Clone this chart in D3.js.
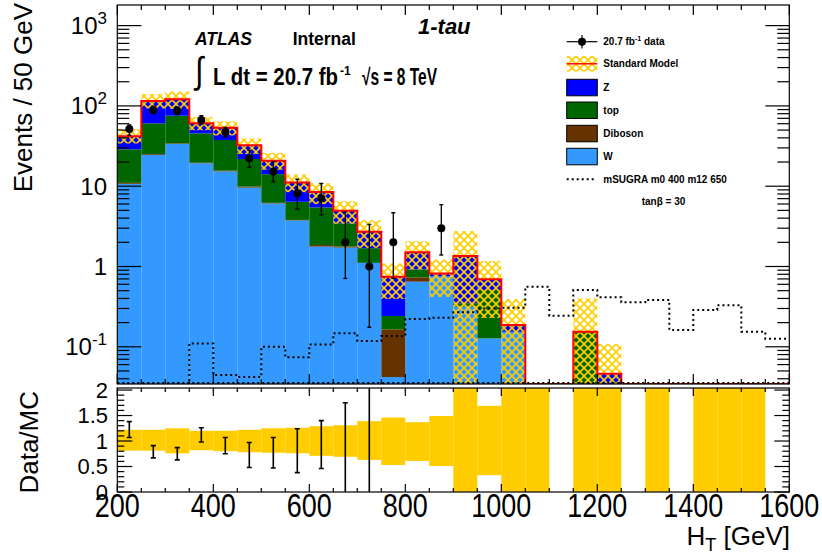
<!DOCTYPE html>
<html>
<head>
<meta charset="utf-8">
<script src="https://cdn.jsdelivr.net/npm/d3@7"></script>
<style>
body { margin: 0; background: #fff; }
text { font-family: "Liberation Sans", Arial, Helvetica, sans-serif; }
</style>
</head>
<body>
<div id="chart"></div>
<script>
// bin edges in H_T [GeV]
var edges = [200,250,300,350,400,450,500,550,600,650,700,750,800,850,900,950,1000,1050,1100,1150,1200,1250,1300,1350,1400,1450,1500,1550,1600];

// background stack (events per bin)
var wBkg   = [10.7,24.6,33.6,19.3,15.3,9.6,6.1,3.75,1.77,1.72,1.11,0.042,0.647,0.76,0.316,0.127,0.154,0,0,0,0,0,0,0,0,0,0,0];
var dibBkg = [0.3,0.6,0.6,0.3,0.3,0.3,0.1,0.05,0.08,0.05,0,0.123,0.086,0,0,0,0,0,0,0,0,0,0,0,0,0,0,0];
var topBkg = [17.8,35.5,41.3,26,22,11.9,7.9,2.6,3.6,1.68,0.58,0.077,0.19,0,0.032,0.383,0,0,0,0.154,0,0,0,0,0,0,0,0];
var zBkg   = [13.2,54.3,45.5,15.1,15.9,10.5,6.7,4.7,3.0,1.5,1.02,0.504,0.58,0.06,1.0,0.183,0.033,0,0,0,0.046,0,0,0,0,0,0,0];

// relative SM uncertainty (down / up)
var errLo = [0.81,0.81,0.76,0.82,0.8,0.78,0.77,0.76,0.71,0.69,0.63,0.53,0.61,0.51,0,0.33,0,0,null,0,0,null,0,null,0,0,0,null];
var errHi = [1.22,1.22,1.25,1.2,1.2,1.22,1.25,1.26,1.29,1.31,1.39,1.46,1.37,1.49,2.05,1.69,2.1,2.5,null,2.6,2.35,null,2.5,null,2.5,2.5,2.5,null];

// data
var dataVals = [51.5,89,87,66.7,47.3,22.3,15.2,8.15,7.1,2,1,2,null,3,null,null,null,null,null,null,null,null,null,null,null,null,null,null];
var dataLo   = [43.3,80,78,59.3,41,17.3,11.3,5.2,4.4,0.71,0.175,0.71,null,1.39];
var dataHi   = [57.8,99,97,75.5,54,28.2,20.2,12.2,10.8,4.8,3.35,4.67,null,5.9];

// signal mSUGRA m0 400 m12 650
var sigVals = [0,0,0,0.11,0.0445,0.042,0.1,0.074,0.107,0.147,0.118,0.136,0.222,0.23,0.27,0.3,0.307,0.56,0.244,0.51,0.414,0.358,0.383,0.162,0.287,0.329,0.154,0.126];

// data / MC
var ratioVals = [1.23,0.78,0.74,1.12,0.9,0.7,0.75,0.78,0.88,0.4,0.37];
var ratioLo   = [1.07,0.67,0.63,0.98,0.75,0.48,0.47,0.38,0.46,0,0];
var ratioHi   = [1.38,0.91,0.87,1.26,1.07,0.97,1.07,1.24,1.40,1.75,3];

var xTickLabels = [200,400,600,800,1000,1200,1400,1600];

var colW = "#3399ff", colDib = "#663300", colTop = "#006600", colZ = "#0000ff";
var colBand = "#ffcc00", colSM = "#ff0000";

var L = 117.3, R = 789.3, T = 5, B = 384, RT = 388, RB = 492;

var svg = d3.select("#chart").append("svg")
    .attr("width", 822)
    .attr("height", 557);

var defs = svg.append("defs");
var pat = defs.append("pattern")
    .attr("id", "hatch")
    .attr("patternUnits", "userSpaceOnUse")
    .attr("width", 8)
    .attr("height", 8);
pat.append("path")
    .attr("d", "M0,0L8,8M8,0L0,8")
    .attr("stroke", colBand)
    .attr("stroke-width", 1.6)
    .attr("fill", "none");
defs.append("clipPath").attr("id", "clipMain")
    .append("rect").attr("x", L).attr("y", T).attr("width", R - L).attr("height", B - T);
defs.append("clipPath").attr("id", "clipRatio")
    .append("rect").attr("x", L).attr("y", RT).attr("width", R - L).attr("height", RB - RT);

var x = d3.scaleLinear().domain([200, 1600]).range([L, R]);
var y = d3.scaleLog().domain([0.0344, 1806]).range([B, T]);
var yr = d3.scaleLinear().domain([0, 2.04]).range([RB, RT]);
var ymin = y.domain()[0];

function mid(i) { return x((edges[i] + edges[i + 1]) / 2); }

// ---------- main panel ----------
var main = svg.append("g").attr("clip-path", "url(#clipMain)");

var layers = [
    {v: wBkg, c: colW},
    {v: dibBkg, c: colDib},
    {v: topBkg, c: colTop},
    {v: zBkg, c: colZ}
];
var sm = wBkg.map(function(d, i) { return wBkg[i] + dibBkg[i] + topBkg[i] + zBkg[i]; });
var cum = wBkg.map(function() { return 0; });

layers.forEach(function(layer) {
    layer.v.forEach(function(v, i) {
        var lo = cum[i], hi = cum[i] + v;
        cum[i] = hi;
        if (v <= 0 || hi <= ymin) return;
        var y0 = y(Math.max(lo, ymin)), y1 = y(hi);
        main.append("rect")
            .attr("x", x(edges[i]))
            .attr("y", y1)
            .attr("width", x(edges[i + 1]) - x(edges[i]))
            .attr("height", y0 - y1)
            .attr("fill", layer.c);
    });
});

// SM uncertainty hatch
sm.forEach(function(v, i) {
    if (v <= 0 || errHi[i] == null) return;
    var y1 = y(v * errHi[i]);
    var y0 = y(Math.max(v * errLo[i], ymin));
    main.append("rect")
        .attr("x", x(edges[i]))
        .attr("y", y1)
        .attr("width", x(edges[i + 1]) - x(edges[i]))
        .attr("height", y0 - y1)
        .attr("fill", "url(#hatch)");
});

function stepPath(vals) {
    var pts = [];
    vals.forEach(function(v, i) {
        var yy = y(Math.max(v, ymin));
        pts.push([x(edges[i]), yy], [x(edges[i + 1]), yy]);
    });
    return d3.line()(pts);
}

main.append("path")
    .attr("d", stepPath(sm))
    .attr("fill", "none")
    .attr("stroke", colSM)
    .attr("stroke-width", 2);

// dotted baseline along the bottom of the frame
main.append("line")
    .attr("x1", L).attr("x2", R)
    .attr("y1", B - 1).attr("y2", B - 1)
    .attr("stroke", "#000")
    .attr("stroke-width", 2)
    .attr("stroke-dasharray", "2,3");

main.append("path")
    .attr("d", stepPath(sigVals))
    .attr("fill", "none")
    .attr("stroke", "#000")
    .attr("stroke-width", 2)
    .attr("stroke-dasharray", "2,3");

// data points
dataVals.forEach(function(v, i) {
    if (v == null) return;
    var cx = mid(i);
    var yh = y(dataHi[i]), yl = y(Math.max(dataLo[i], ymin));
    main.append("line")
        .attr("x1", cx).attr("x2", cx).attr("y1", yh).attr("y2", yl)
        .attr("stroke", "#000").attr("stroke-width", 1.3);
    [yh, yl].forEach(function(yy) {
        main.append("line")
            .attr("x1", cx - 2).attr("x2", cx + 2).attr("y1", yy).attr("y2", yy)
            .attr("stroke", "#000").attr("stroke-width", 1.3);
    });
    main.append("circle")
        .attr("cx", cx).attr("cy", y(v)).attr("r", 4)
        .attr("fill", "#000");
});

// ---------- ratio panel ----------
var ratio = svg.append("g").attr("clip-path", "url(#clipRatio)");

errHi.forEach(function(h, i) {
    if (h == null) return;
    var y1 = yr(Math.min(h, 2.04)), y0 = yr(errLo[i]);
    ratio.append("rect")
        .attr("x", x(edges[i]))
        .attr("y", y1)
        .attr("width", x(edges[i + 1]) - x(edges[i]))
        .attr("height", y0 - y1)
        .attr("fill", colBand);
});

ratioVals.forEach(function(v, i) {
    var cx = mid(i);
    var yh = yr(ratioHi[i]), yl = yr(ratioLo[i]);
    ratio.append("line")
        .attr("x1", cx).attr("x2", cx).attr("y1", yh).attr("y2", yl)
        .attr("stroke", "#000").attr("stroke-width", 1.6);
    [ratioHi[i], ratioLo[i]].forEach(function(r) {
        if (r <= 0 || r >= 2.04) return;
        ratio.append("line")
            .attr("x1", cx - 2.5).attr("x2", cx + 2.5).attr("y1", yr(r)).attr("y2", yr(r))
            .attr("stroke", "#000").attr("stroke-width", 1.6);
    });
});

// ---------- frames & ticks ----------
function frame(top, bottom) {
    svg.append("rect")
        .attr("x", L).attr("y", top)
        .attr("width", R - L).attr("height", bottom - top)
        .attr("fill", "none")
        .attr("stroke", "#000")
        .attr("stroke-width", 1.2);
}
frame(T, B);
frame(RT, RB);

var ticks = svg.append("g").attr("stroke", "#000").attr("stroke-width", 1.2);

function xTicks(top, bottom, major, minor) {
    x.ticks(28).forEach(function(t) {
        var len = (t % 200 === 0) ? major : minor;
        ticks.append("line").attr("x1", x(t)).attr("x2", x(t)).attr("y1", bottom).attr("y2", bottom - len);
        ticks.append("line").attr("x1", x(t)).attr("x2", x(t)).attr("y1", top).attr("y2", top + len);
    });
}
xTicks(T, B, 10, 5);
xTicks(RT, RB, 8, 4);

y.ticks().forEach(function(t) {
    var lg = Math.log10(t);
    var isMajor = Math.abs(lg - Math.round(lg)) < 1e-6;
    var len = isMajor ? 24 : 12;
    ticks.append("line").attr("x1", L).attr("x2", L + len).attr("y1", y(t)).attr("y2", y(t));
    ticks.append("line").attr("x1", R).attr("x2", R - len).attr("y1", y(t)).attr("y2", y(t));
});

yr.ticks(20).forEach(function(t) {
    var isMajor = Math.abs(t * 2 - Math.round(t * 2)) < 1e-6;
    var len = isMajor ? 15 : 7;
    ticks.append("line").attr("x1", L).attr("x2", L + len).attr("y1", yr(t)).attr("y2", yr(t));
    ticks.append("line").attr("x1", R).attr("x2", R - len).attr("y1", yr(t)).attr("y2", yr(t));
});

// ---------- tick labels ----------
y.ticks().forEach(function(t) {
    var lg = Math.round(Math.log10(t));
    if (Math.abs(Math.log10(t) - lg) > 1e-6) return;
    var tx = svg.append("text")
        .attr("x", 107)
        .attr("y", y(t) + 8.5)
        .attr("text-anchor", "end")
        .attr("font-size", 24);
    if (lg === 0) tx.text("1");
    else if (lg === 1) tx.text("10");
    else {
        tx.append("tspan").text("10");
        tx.append("tspan").attr("dy", -10).attr("font-size", 17).text(lg);
    }
});

yr.ticks(4).forEach(function(t) {
    svg.append("text")
        .attr("x", 108)
        .attr("y", yr(t) + 7.8)
        .attr("text-anchor", "end")
        .attr("font-size", 22)
        .text(d3.format("~g")(t));
});

xTickLabels.forEach(function(t) {
    svg.append("text")
        .attr("transform", "translate(" + x(t) + ",516.7) scale(1,1.2)")
        .attr("text-anchor", "middle")
        .attr("font-size", 27)
        .text(t);
});

// ---------- axis titles ----------
svg.append("text")
    .attr("transform", "translate(32,3) rotate(-90)")
    .attr("text-anchor", "end")
    .attr("font-size", 26)
    .text("Events / 50 GeV");

svg.append("text")
    .attr("transform", "translate(38,391) rotate(-90)")
    .attr("text-anchor", "end")
    .attr("font-size", 26)
    .text("Data/MC");

var xt = svg.append("text")
    .attr("x", 790)
    .attr("y", 545)
    .attr("text-anchor", "end")
    .attr("font-size", 26);
xt.append("tspan").text("H");
xt.append("tspan").attr("dy", 6).attr("font-size", 18).text("T");
xt.append("tspan").attr("dy", -6).text(" [GeV]");

// ---------- labels ----------
svg.append("text")
    .attr("x", 195).attr("y", 45)
    .attr("font-size", 17.5).attr("font-weight", "bold").attr("font-style", "italic")
    .text("ATLAS");
svg.append("text")
    .attr("x", 292.7).attr("y", 45)
    .attr("font-size", 17.5).attr("font-weight", "bold")
    .text("Internal");

svg.append("text")
    .attr("transform", "translate(195,83) scale(1,1.23)")
    .attr("font-size", 30)
    .text("\u222B");

svg.append("text")
    .attr("transform", "translate(213,85) scale(1,1.15)")
    .attr("font-size", 20).attr("font-weight", "bold")
    .attr("textLength", 125).attr("lengthAdjust", "spacingAndGlyphs")
    .text("L dt = 20.7 fb");
svg.append("text")
    .attr("x", 340).attr("y", 75)
    .attr("font-size", 12).attr("font-weight", "bold")
    .text("-1");
svg.append("text")
    .attr("transform", "translate(362,85) scale(1,1.15)")
    .attr("font-size", 20).attr("font-weight", "bold")
    .attr("textLength", 75).attr("lengthAdjust", "spacingAndGlyphs")
    .text("\u221As = 8 TeV");

svg.append("text")
    .attr("x", 418).attr("y", 34)
    .attr("font-size", 22).attr("font-weight", "bold").attr("font-style", "italic")
    .text("1-tau");

// ---------- legend ----------
var leg = svg.append("g");
var lx0 = 566.7, lx1 = 597.3, tx0 = 603.3;

leg.append("line").attr("x1", lx0).attr("x2", lx1).attr("y1", 41.7).attr("y2", 41.7)
    .attr("stroke", "#000").attr("stroke-width", 1.2);
leg.append("line").attr("x1", 582).attr("x2", 582).attr("y1", 35).attr("y2", 48.5)
    .attr("stroke", "#000").attr("stroke-width", 1.2);
leg.append("circle").attr("cx", 582).attr("cy", 41.7).attr("r", 4).attr("fill", "#000");
var lt = leg.append("text").attr("x", tx0).attr("y", 45.3).attr("font-size", 10).attr("font-weight", "bold");
lt.append("tspan").text("20.7 fb");
lt.append("tspan").attr("dy", -4).attr("font-size", 7).text("-1");
lt.append("tspan").attr("dy", 4).text(" data");

leg.append("rect").attr("x", lx0).attr("y", 56).attr("width", lx1 - lx0).attr("height", 15.7)
    .attr("fill", "url(#hatch)");
leg.append("line").attr("x1", lx0).attr("x2", lx1).attr("y1", 63.8).attr("y2", 63.8)
    .attr("stroke", colSM).attr("stroke-width", 1.5);
leg.append("text").attr("x", tx0).attr("y", 67).attr("font-size", 10).attr("font-weight", "bold")
    .text("Standard Model");

var boxes = [
    {name: "Z", c: colZ, y: 79.3},
    {name: "top", c: colTop, y: 102},
    {name: "Diboson", c: colDib, y: 125.3},
    {name: "W", c: colW, y: 148.3}
];
boxes.forEach(function(b) {
    leg.append("rect").attr("x", lx0).attr("y", b.y).attr("width", lx1 - lx0).attr("height", 16.5)
        .attr("fill", b.c).attr("stroke", "#000").attr("stroke-width", 1);
    leg.append("text").attr("x", tx0).attr("y", b.y + 12).attr("font-size", 10).attr("font-weight", "bold")
        .text(b.name);
});

leg.append("line").attr("x1", lx0).attr("x2", 595).attr("y1", 179.3).attr("y2", 179.3)
    .attr("stroke", "#000").attr("stroke-width", 2).attr("stroke-dasharray", "2,3");
leg.append("text").attr("x", tx0).attr("y", 183).attr("font-size", 10).attr("font-weight", "bold")
    .text("mSUGRA m0 400 m12 650");
leg.append("text").attr("x", 641.7).attr("y", 205).attr("font-size", 10).attr("font-weight", "bold")
    .text("tan\u03B2 = 30");
</script>
</body>
</html>
